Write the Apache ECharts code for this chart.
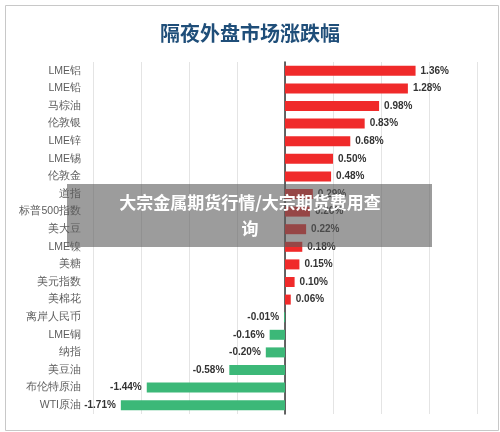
<!DOCTYPE html>
<html>
<head>
<meta charset="utf-8">
<script src="https://cdn.jsdelivr.net/npm/echarts@6/dist/echarts.min.js"></script>
<style>
    html, body { margin: 0; padding: 0; background: #fff; }
    #main { width: 500px; height: 432px; }
</style>
</head>
<body>
<div id="main"></div>
<script>
    var chartDom = document.getElementById('main');
    var myChart = echarts.init(chartDom);

    const categories = ['LME铝', 'LME铅', '马棕油', '伦敦银', 'LME锌', 'LME锡', '伦敦金', '道指', '标普500指数', '美大豆',
        'LME镍', '美糖', '美元指数', '美棉花', '离岸人民币', 'LME铜', '纳指', '美豆油', '布伦特原油', 'WTI原油'];
    const values = [1.36, 1.28, 0.98, 0.83, 0.68, 0.50, 0.48, 0.29, 0.26, 0.22,
        0.18, 0.15, 0.10, 0.06, -0.01, -0.16, -0.20, -0.58, -1.44, -1.71];

    var option = {
        backgroundColor: '#fff',
        title: {
            text: '隔夜外盘市场涨跌幅',
            left: 'center',
            top: 18,
            textStyle: { color: '#1f4e79', fontSize: 20, fontWeight: 'bold', fontFamily: 'Noto Sans CJK SC' }
        },
        grid: { left: 93, width: 384, top: 62, bottom: 18 },
        xAxis: {
            type: 'value', min: -2, max: 2, interval: 0.5,
            axisLabel: { show: false },
            axisLine: { show: false },
            splitLine: { show: true, lineStyle: { color: '#e4e4e4' } }
        },
        yAxis: {
            type: 'category', inverse: true, data: categories,
            axisTick: { show: false },
            axisLine: { show: true, onZero: true, lineStyle: { color: '#333', width: 1.5 } },
            axisLabel: { show: false }
        },
        series: [{
            type: 'bar',
            barWidth: 10,
            data: values.map(function (v) {
                return { value: v, itemStyle: { color: v >= 0 ? '#f02a2a' : '#3cb878' } };
            }),
            label: {
                show: true,
                position: 'right',
                fontSize: 10, fontWeight: 'bold', color: '#333',
                formatter: function (p) { return p.value.toFixed(2) + '%'; }
            },
            labelLayout: function (p) {
                return {};
            }
        }, {
            // category names drawn at the left of the plot
            type: 'scatter',
            symbolSize: 0,
            data: categories.map(function (c) { return [-2, c]; }),
            label: {
                show: true, position: 'left', distance: 12,
                fontSize: 10.5, color: '#333',
                formatter: function (p) { return p.name || p.value[1]; }
            },
            silent: true
        }],
        graphic: [{
            type: 'rect', left: 67, top: 184,
            shape: { width: 365, height: 63 },
            style: { fill: 'rgba(90,90,90,0.6)' }, z: 100
        }, {
            type: 'text', left: 'center', top: 190,
            style: {
                text: '大宗金属期货行情/大宗期货费用查\n询', fill: '#fff',
                font: 'bold 17px "Noto Sans CJK SC"', textAlign: 'center', lineHeight: 26
            }, z: 101
        }, {
            type: 'rect', left: 3, top: 3,
            shape: { width: 493, height: 425 },
            style: { fill: 'none', stroke: '#c8c8c8', lineWidth: 1 }, z: 0
        }]
    };
    // negative labels go on the left side of the bar
    option.series[0].data.forEach(function (d) {
        if (d.value < 0) d.label = { position: 'left' };
    });

    option && myChart.setOption(option);
</script>
</body>
</html>
